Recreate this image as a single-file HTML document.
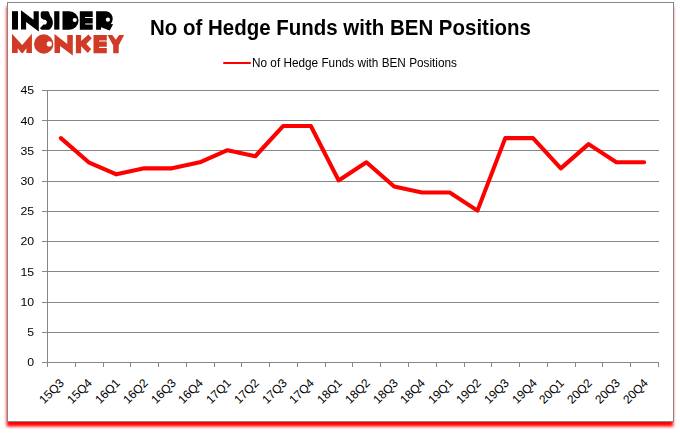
<!DOCTYPE html>
<html><head><meta charset="utf-8"><title>chart</title>
<style>
html,body{margin:0;padding:0;background:#fff;}
body{width:680px;height:433px;position:relative;overflow:hidden;font-family:"Liberation Sans",sans-serif;color:#000;}
#frame{position:absolute;left:7px;top:2px;width:665px;height:418px;border:1px solid #868686;background:#fff;}
#title{position:absolute;left:149.6px;top:16px;font-weight:bold;font-size:21.4px;line-height:24px;white-space:nowrap;transform-origin:0 0;transform:scaleX(0.957);}
#legend{position:absolute;left:252.2px;top:55.6px;font-size:12.3px;line-height:14px;white-space:nowrap;transform-origin:0 0;transform:scaleX(0.958);}
.yl{position:absolute;left:0;width:34.1px;text-align:right;font-size:11.5px;line-height:14px;transform-origin:100% 50%;transform:scaleX(1.07);}
.xl{position:absolute;top:374.4px;width:40px;text-align:right;font-size:12px;line-height:14px;white-space:nowrap;transform-origin:100% 50%;transform:rotate(-45deg);}
svg{position:absolute;left:0;top:0;}
</style></head><body>
<svg width="680" height="433" viewBox="0 0 680 433"><defs><filter id="bl" x="-5%" y="-5%" width="110%" height="110%"><feGaussianBlur stdDeviation="1.4"/></filter></defs><rect x="6.7" y="6.5" width="666.5" height="420" fill="#ff0000" filter="url(#bl)"/></svg>
<div id="frame"></div>
<svg width="680" height="433" viewBox="0 0 680 433">
<g stroke="#868686" stroke-width="1" shape-rendering="crispEdges"><line x1="42" y1="362.5" x2="658.5" y2="362.5"/><line x1="42" y1="332.5" x2="658.5" y2="332.5"/><line x1="42" y1="302.5" x2="658.5" y2="302.5"/><line x1="42" y1="271.5" x2="658.5" y2="271.5"/><line x1="42" y1="241.5" x2="658.5" y2="241.5"/><line x1="42" y1="211.5" x2="658.5" y2="211.5"/><line x1="42" y1="181.5" x2="658.5" y2="181.5"/><line x1="42" y1="150.5" x2="658.5" y2="150.5"/><line x1="42" y1="120.5" x2="658.5" y2="120.5"/><line x1="42" y1="90.5" x2="658.5" y2="90.5"/><line x1="47.5" y1="90.0" x2="47.5" y2="367"/><line x1="47.5" y1="362" x2="47.5" y2="367"/><line x1="75.5" y1="362" x2="75.5" y2="367"/><line x1="103.5" y1="362" x2="103.5" y2="367"/><line x1="130.5" y1="362" x2="130.5" y2="367"/><line x1="158.5" y1="362" x2="158.5" y2="367"/><line x1="186.5" y1="362" x2="186.5" y2="367"/><line x1="214.5" y1="362" x2="214.5" y2="367"/><line x1="241.5" y1="362" x2="241.5" y2="367"/><line x1="269.5" y1="362" x2="269.5" y2="367"/><line x1="297.5" y1="362" x2="297.5" y2="367"/><line x1="325.5" y1="362" x2="325.5" y2="367"/><line x1="352.5" y1="362" x2="352.5" y2="367"/><line x1="380.5" y1="362" x2="380.5" y2="367"/><line x1="408.5" y1="362" x2="408.5" y2="367"/><line x1="436.5" y1="362" x2="436.5" y2="367"/><line x1="464.5" y1="362" x2="464.5" y2="367"/><line x1="491.5" y1="362" x2="491.5" y2="367"/><line x1="519.5" y1="362" x2="519.5" y2="367"/><line x1="547.5" y1="362" x2="547.5" y2="367"/><line x1="575.5" y1="362" x2="575.5" y2="367"/><line x1="602.5" y1="362" x2="602.5" y2="367"/><line x1="630.5" y1="362" x2="630.5" y2="367"/><line x1="658.5" y1="362" x2="658.5" y2="367"/></g>
<polyline points="61.39,138.86 89.16,163.03 116.93,175.12 144.70,169.08 172.48,169.08 200.25,163.03 228.02,150.94 255.80,156.99 283.57,126.77 311.34,126.77 339.11,181.17 366.89,163.03 394.66,187.21 422.43,193.26 450.20,193.26 477.98,211.39 505.75,138.86 533.52,138.86 561.30,169.08 589.07,144.90 616.84,163.03 644.61,163.03" transform="translate(-0.5,-0.75)" fill="none" stroke="#ff0000" stroke-width="4.1" stroke-linejoin="round" stroke-linecap="round"/>
<line x1="224" y1="63" x2="250" y2="63" stroke="#ff0000" stroke-width="2" stroke-linecap="round"/>
<g fill="#000000">
<rect x="12" y="11.2" width="6" height="18.4"/>
<path d="M21,10.2 L33.6,19.8 L33.6,11.2 L38.8,11.2 L38.8,31.6 L26.1,22 L26.1,29.6 L21,29.6 Z"/>
<path d="M42.3,11.2 L48.1,11.2 C48.8,11.6 49.3,12.8 49.6,14 C49.9,15.2 50.2,16 50.7,16.6 C51.6,17.6 52.3,19 52.6,20.4 C53,22 52.9,23.8 52.5,25.2 C52,27 50.8,28.7 48.8,29.7 L41.6,29.7 L39.9,28.3 L43.5,24.5 L45.6,24.4 C46.4,24 46.8,23.2 46.9,22.1 C46.8,21 46.3,20.4 45.4,20 C44,19.7 42.6,19.2 41.7,18.4 C41,17.8 40.7,17 40.7,15.7 L40.7,13.2 C40.9,12.2 41.5,11.4 42.3,11.2 Z"/>
<rect x="54.2" y="11.2" width="5.2" height="18.4"/>
<path fill-rule="evenodd" d="M62.5,11.2 L69.3,11.2 A9.25,9.25 0 0 1 69.3,29.7 L62.5,29.7 Z M76.9,20 A2.1,2.1 0 1 0 72.7,20 A2.1,2.1 0 1 0 76.9,20 Z"/>
<path d="M79.8,11.2 L92.7,11.2 L92.7,17 L85,17 L85,18 L92.7,18 L92.7,23.4 L85.2,23.4 L85.2,24.4 L92.7,24.4 L92.7,29.7 L79.8,29.7 Z"/>
<path fill-rule="evenodd" d="M96.1,11.2 L106,11.2 C110,11.6 112.7,14.8 112.7,18.6 C112.7,20.8 112,22.6 110.8,24 L113.1,24.3 L109.7,30.6 L101,27.2 L101,29.7 L96.1,29.7 Z M110,19.7 A2.1,2.1 0 1 0 105.8,19.7 A2.1,2.1 0 1 0 110,19.7 Z"/>
</g>
<g fill="#d03a26">
<path d="M12,33.8 L22.2,44.9 L31.9,33.8 L31.9,52.9 L26.4,52.9 L26.4,48.2 L22.9,53 L21.5,53 L17.7,48.2 L17.7,52.9 L12,52.9 Z"/>
<path fill-rule="evenodd" d="M53.4,44 A9.7,9.7 0 1 0 34,44 A9.7,9.7 0 1 0 53.4,44 Z M51.9,43.9 A2.6,2.6 0 1 0 46.7,43.9 A2.6,2.6 0 1 0 51.9,43.9 Z"/>
<path d="M54.5,34 L67.3,44.1 L67.3,35 L72.8,35 L72.8,55.4 L60,46 L60,52.9 L54.5,52.9 Z"/>
<path d="M75.9,35 L81.1,35 L81.1,41.1 L88.4,34.5 L91.8,38.3 L86.3,43.9 L91.1,49.1 L87.9,53 L81.1,46.3 L81.1,53.2 L75.9,53.2 Z"/>
<path d="M93.5,35 L106.8,35 L106.8,40.4 L99.1,40.4 L99.1,41.6 L106.8,41.6 L106.8,46.7 L99.1,46.7 L99.1,47.9 L106.8,47.9 L106.8,53.2 L93.5,53.2 Z"/>
<path d="M107.5,35 L112.3,35 L115.8,39.7 L119.1,35 L124.1,35 L118.7,45.6 L118.7,53.2 L113.2,53.2 L113.2,45.6 Z"/>
</g>

</svg>
<div id="title">No of Hedge Funds with BEN Positions</div>
<div id="legend">No of Hedge Funds with BEN Positions</div>
<div class="yl" style="top:355.3px">0</div><div class="yl" style="top:325.1px">5</div><div class="yl" style="top:294.9px">10</div><div class="yl" style="top:264.6px">15</div><div class="yl" style="top:234.4px">20</div><div class="yl" style="top:204.2px">25</div><div class="yl" style="top:174.0px">30</div><div class="yl" style="top:143.7px">35</div><div class="yl" style="top:113.5px">40</div><div class="yl" style="top:83.3px">45</div>
<div class="xl" style="left:22.4px">15Q3</div><div class="xl" style="left:50.2px">15Q4</div><div class="xl" style="left:77.9px">16Q1</div><div class="xl" style="left:105.7px">16Q2</div><div class="xl" style="left:133.5px">16Q3</div><div class="xl" style="left:161.2px">16Q4</div><div class="xl" style="left:189.0px">17Q1</div><div class="xl" style="left:216.8px">17Q2</div><div class="xl" style="left:244.6px">17Q3</div><div class="xl" style="left:272.3px">17Q4</div><div class="xl" style="left:300.1px">18Q1</div><div class="xl" style="left:327.9px">18Q2</div><div class="xl" style="left:355.7px">18Q3</div><div class="xl" style="left:383.4px">18Q4</div><div class="xl" style="left:411.2px">19Q1</div><div class="xl" style="left:439.0px">19Q2</div><div class="xl" style="left:466.8px">19Q3</div><div class="xl" style="left:494.5px">19Q4</div><div class="xl" style="left:522.3px">20Q1</div><div class="xl" style="left:550.1px">20Q2</div><div class="xl" style="left:577.8px">20Q3</div><div class="xl" style="left:605.6px">20Q4</div>
</body></html>
